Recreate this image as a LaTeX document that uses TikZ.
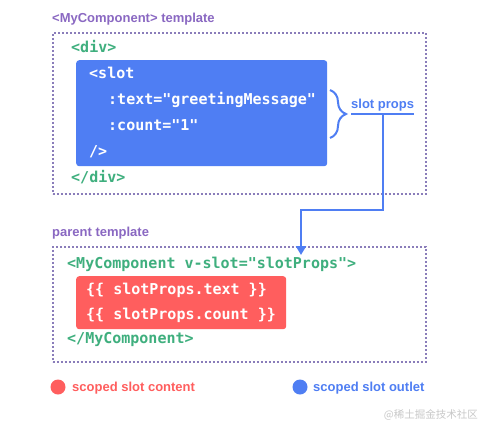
\documentclass[tikz,border=0pt]{standalone}
\usepackage{fontspec}
\setmainfont{Liberation Sans}
\newfontfamily\codefont{DejaVu Sans Mono}
\newfontfamily\cjkfont{Noto Sans CJK SC}
\usetikzlibrary{arrows.meta,positioning,decorations.pathreplacing}
\definecolor{vpurple}{HTML}{8A68C2}
\definecolor{vgreen}{HTML}{3FAF7E}
\definecolor{vblue}{HTML}{4F7EF3}
\definecolor{vred}{HTML}{FF5E5E}
\definecolor{framec}{HTML}{8A7DBA}
\definecolor{wmark}{HTML}{C8C8C8}
\tikzset{
  heading/.style={anchor=base west,inner sep=0pt,text=vpurple,
    font=\bfseries\fontsize{13}{15}\selectfont},
  frame/.style={draw=framec,line width=1.8pt,dash pattern=on 1.8pt off 2.2pt,
    anchor=north west,inner sep=0pt},
  code/.style={anchor=base west,inner sep=0pt,text=vgreen,
    font=\codefont\bfseries\fontsize{15}{18}\selectfont},
  codein/.style={code,text=white},
  outlet/.style={fill=vblue,rounded corners=3pt,anchor=north west,inner sep=0pt},
  content/.style={fill=vred,rounded corners=3pt,anchor=north west,inner sep=0pt},
  propslabel/.style={anchor=south west,inner xsep=0pt,inner ysep=2.4pt,text=vblue,
    font=\bfseries\fontsize{13}{15}\selectfont},
  link/.style={draw=vblue,line width=2pt,-{Triangle[length=9pt,width=10pt]}},
  curly/.style={draw=vblue,line width=2pt,decorate,
    decoration={brace,amplitude=16pt}},
  legend/.style={anchor=base west,inner sep=0pt,
    font=\bfseries\fontsize{13}{15}\selectfont},
  dot/.style={circle,minimum size=15pt,inner sep=0pt}
}
\begin{document}
\begin{tikzpicture}[x=1pt,y=-1pt]
  \useasboundingbox[fill=white] (0,0) rectangle (481,426);
  % child component
  \node[heading] (childtitle) at (52,22) {<MyComponent> template};
  \node[frame,minimum width=373pt,minimum height=161pt] (child) at (52,32) {};
  \node[code] (divopen) at (71,52) {<div>};
  \node[outlet,minimum width=251pt,minimum height=106pt] (slot) at (76,60) {};
  \node[codein] (slotopen) at (89,78) {<slot};
  \node[codein] (textprop) at (108,104) {:text="greetingMessage"};
  \node[codein] (countprop) at (108,130) {:count="1"};
  \node[codein] (slotclose) at (89,156) {/>};
  \node[code] (divclose) at (71,182) {</div>};
  \draw[curly] (330,90) -- (330,138);
  \node[propslabel] (props) at (351,114) {slot props};
  \draw[vblue,line width=2pt] (props.south west) -- (props.south east);
  % parent component
  \node[heading] (parenttitle) at (52,236) {parent template};
  \node[frame,minimum width=373pt,minimum height=115pt] (parent) at (52,246) {};
  \node[code] (compopen) at (67,268) {<MyComponent v-slot="slotProps">};
  \node[content,minimum width=210pt,minimum height=53pt] (scoped) at (76,276) {};
  \node[codein] (textuse) at (86,294) {\{\{ slotProps.text \}\}};
  \node[codein] (countuse) at (86,319) {\{\{ slotProps.count \}\}};
  \node[code] (compclose) at (67,343) {</MyComponent>};
  % props flow
  \coordinate (elbow) at (301,210);
  \coordinate (tip) at (301,255);
  \draw[link] (props.south) |- (elbow) -- (tip);
  % legend
  \node[dot,fill=vred] (reddot) at (58,387) {};
  \node[legend,text=vred] (redkey) at (72,391) {scoped slot content};
  \node[dot,fill=vblue] (bluedot) at (300,387) {};
  \node[legend,text=vblue] (bluekey) at (313,391) {scoped slot outlet};
  \node[anchor=east,inner sep=0pt,text=wmark,font=\cjkfont\fontsize{10.5}{12}\selectfont]
    (mark) at (478,415) {@稀土掘金技术社区};
\end{tikzpicture}
\end{document}
